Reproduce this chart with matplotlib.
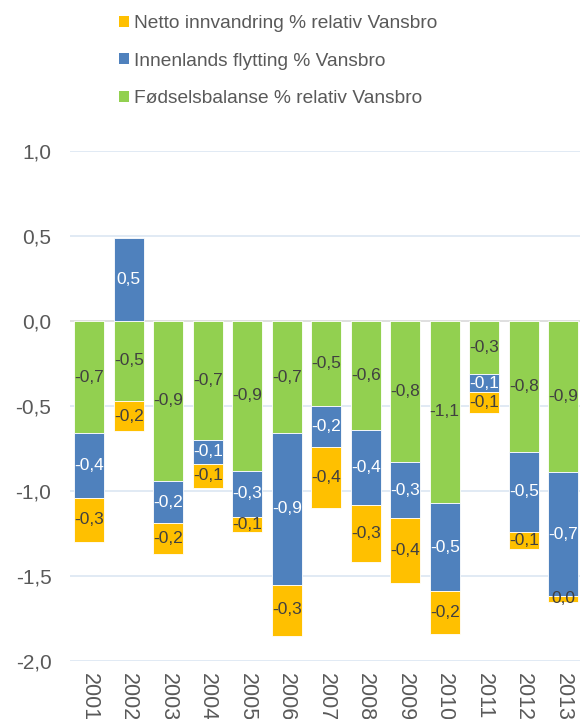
import matplotlib
matplotlib.use("Agg")
import matplotlib.pyplot as plt
from matplotlib.patches import Patch
import numpy as np

plt.rcParams['font.family'] = ['Liberation Sans', 'DejaVu Sans']

years = ["2001", "2002", "2003", "2004", "2005", "2006", "2007",
         "2008", "2009", "2010", "2011", "2012", "2013"]
fodsel = [-0.66, -0.47, -0.94, -0.70, -0.88, -0.66, -0.50,
          -0.64, -0.83, -1.07, -0.31, -0.77, -0.89]
innenlands = [-0.38, 0.49, -0.25, -0.14, -0.27, -0.89, -0.24,
              -0.44, -0.33, -0.52, -0.11, -0.47, -0.73]
netto = [-0.26, -0.18, -0.18, -0.14, -0.09, -0.30, -0.36,
         -0.34, -0.38, -0.25, -0.12, -0.10, -0.03]

yticks = [1.0, 0.5, 0.0, -0.5, -1.0, -1.5, -2.0]

c_orange = "#FFC000"
c_blue = "#4F81BD"
c_green = "#92D050"
txt_dark = "#404040"
tick_col = "#595959"

fig = plt.figure(figsize=(5.8, 7.19), dpi=100)
W, H = 580, 719
ax_left, ax_right = 69.5, 583.0
ax_top, ax_bot = 151, 661
ax = fig.add_axes([ax_left / W, 1 - ax_bot / H, (ax_right - ax_left) / W, (ax_bot - ax_top) / H])

x = np.arange(len(years))
width = 0.77

def fmt(v):
    s = f"{v:.1f}".replace(".", ",")
    if s == "-0,0":
        s = "0,0"
    return s

pos_base = np.zeros(len(years))
neg_base = np.zeros(len(years))
series = [(fodsel, c_green, txt_dark), (innenlands, c_blue, "white"), (netto, c_orange, txt_dark)]
for vals, col, tcol in series:
    vals = np.array(vals)
    bottoms = np.where(vals >= 0, pos_base, neg_base)
    ax.bar(x, vals, width, bottom=bottoms, color=col, edgecolor="white", linewidth=0.6, zorder=3)
    for xi, v, b in zip(x, vals, bottoms):
        ax.text(xi, b + v / 2, fmt(v), ha="center", va="center", fontsize=12.5,
                color=tcol, zorder=4)
    pos_base = np.where(vals >= 0, pos_base + vals, pos_base)
    neg_base = np.where(vals < 0, neg_base + vals, neg_base)

ax.set_xlim(-0.5, len(years) - 0.5)
ax.set_ylim(-2.0, 1.0)
ax.set_yticks(yticks)
ax.set_yticklabels([f"{t:.1f}".replace(".", ",") for t in yticks], fontsize=15, color=tick_col)
ax.set_xticks(x)
ax.set_xticklabels(years, rotation=270, fontsize=15.5, color=tick_col, va="top")
ax.tick_params(axis="both", length=0)
ax.tick_params(axis="y", pad=13)
ax.tick_params(axis="x", pad=8.5)
for sp in ax.spines.values():
    sp.set_visible(False)
for t in yticks:
    if t == 0:
        ax.axhline(t, color="#D9D9D9", linewidth=1.2, zorder=1)
    else:
        ax.axhline(t, color="#DCE6F2", linewidth=1.2, zorder=1)

handles = [Patch(facecolor=c_orange), Patch(facecolor=c_blue), Patch(facecolor=c_green)]
labels = ["Netto innvandring % relativ Vansbro",
          "Innenlands flytting % Vansbro",
          "Fødselsbalanse % relativ Vansbro"]
leg = fig.legend(handles, labels, loc="upper left", bbox_to_anchor=(119 / W, 1 - 15 / H),
                 frameon=False, fontsize=13.8, handlelength=0.5, handleheight=0.5,
                 handletextpad=0.3, labelspacing=1.08, borderpad=0, borderaxespad=0)
for t in leg.get_texts():
    t.set_color(tick_col)

fig.savefig("out.png", dpi=100)
